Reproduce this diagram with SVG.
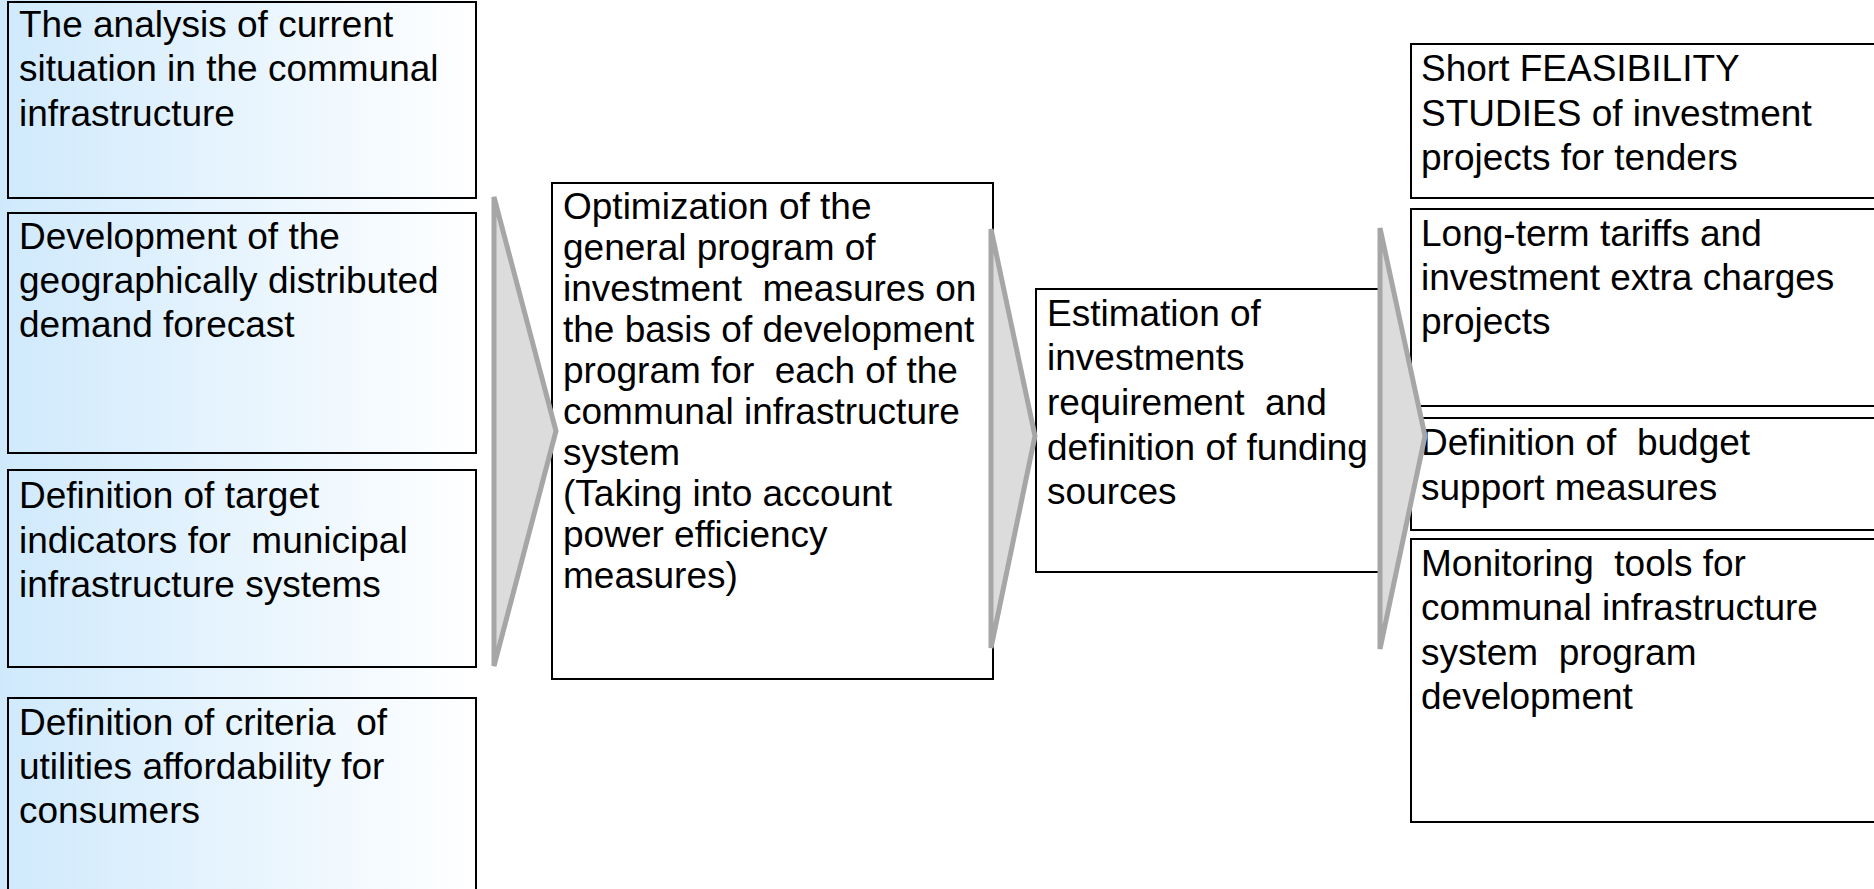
<svg xmlns="http://www.w3.org/2000/svg" width="1874" height="889" viewBox="0 0 1874 889">
<defs>
<linearGradient id="lg" x1="0" y1="0" x2="1" y2="0">
<stop offset="0" stop-color="#cfe9fc"/>
<stop offset="1" stop-color="#ffffff"/>
</linearGradient>
</defs>
<style>
text{font-family:"Liberation Sans",Arial,sans-serif;font-size:37px;fill:#000;white-space:pre}
.box{fill:none;stroke:#000;stroke-width:2}
.wbox{fill:#fff;stroke:#000;stroke-width:2}
.arr{fill:#dcdcdc;stroke:#a6a6a6;stroke-width:5;stroke-linejoin:miter}
</style>
<rect x="0" y="0" width="1874" height="889" fill="#fff"/>
<rect x="0" y="0" width="477" height="889" fill="url(#lg)"/>
<g id="n1"><rect class="box" x="8" y="2" width="468" height="196"/>
<text x="19" y="37">The analysis of current</text><text x="19" y="81">situation in the communal</text><text x="19" y="126">infrastructure</text></g>
<g id="n2"><rect class="box" x="8" y="213" width="468" height="240"/>
<text x="19" y="249">Development of the</text><text x="19" y="293">geographically distributed</text><text x="19" y="337">demand forecast</text></g>
<g id="n3"><rect class="box" x="8" y="470" width="468" height="197"/>
<text x="19" y="508">Definition of target</text><text x="19" y="553">indicators for  municipal</text><text x="19" y="597">infrastructure systems</text></g>
<g id="n4"><rect class="box" x="8" y="698" width="468" height="210"/>
<text x="19" y="735">Definition of criteria  of</text><text x="19" y="779">utilities affordability for</text><text x="19" y="823">consumers</text></g>
<g id="n5"><rect class="wbox" x="552" y="183" width="441" height="496"/>
<text x="563" y="219">Optimization of the</text><text x="563" y="260">general program of</text><text x="563" y="301">investment  measures on</text><text x="563" y="342">the basis of development</text><text x="563" y="383">program for  each of the</text><text x="563" y="424">communal infrastructure</text><text x="563" y="465">system</text><text x="563" y="506">(Taking into account</text><text x="563" y="547">power efficiency</text><text x="563" y="588">measures)</text></g>
<g id="n6"><rect class="wbox" x="1036" y="289" width="350" height="283"/>
<text x="1047" y="326">Estimation of</text><text x="1047" y="370">investments</text><text x="1047" y="415">requirement  and</text><text x="1047" y="460">definition of funding</text><text x="1047" y="504">sources</text></g>
<g id="n7"><rect class="wbox" x="1411" y="44" width="480" height="154"/>
<text x="1421" y="81">Short FEASIBILITY</text><text x="1421" y="126">STUDIES of investment</text><text x="1421" y="170">projects for tenders</text></g>
<g id="n8"><rect class="wbox" x="1411" y="209" width="480" height="197"/>
<text x="1421" y="246">Long-term tariffs and</text><text x="1421" y="290">investment extra charges</text><text x="1421" y="334">projects</text></g>
<g id="n9"><rect class="wbox" x="1411" y="418" width="480" height="112"/>
<text x="1421" y="455">Definition of  budget</text><text x="1421" y="500">support measures</text></g>
<g id="n10"><rect class="wbox" x="1411" y="539" width="480" height="283"/>
<text x="1421" y="576">Monitoring  tools for</text><text x="1421" y="620">communal infrastructure</text><text x="1421" y="665">system  program</text><text x="1421" y="709">development</text></g>
<g id="connectors">
<polygon class="arr" points="494,197 556,431 494,666"/>
<polygon class="arr" points="991,229 1035,436 991,648"/>
<polygon class="arr" points="1380,228 1425,436 1380,649"/>
</g>
</svg>
